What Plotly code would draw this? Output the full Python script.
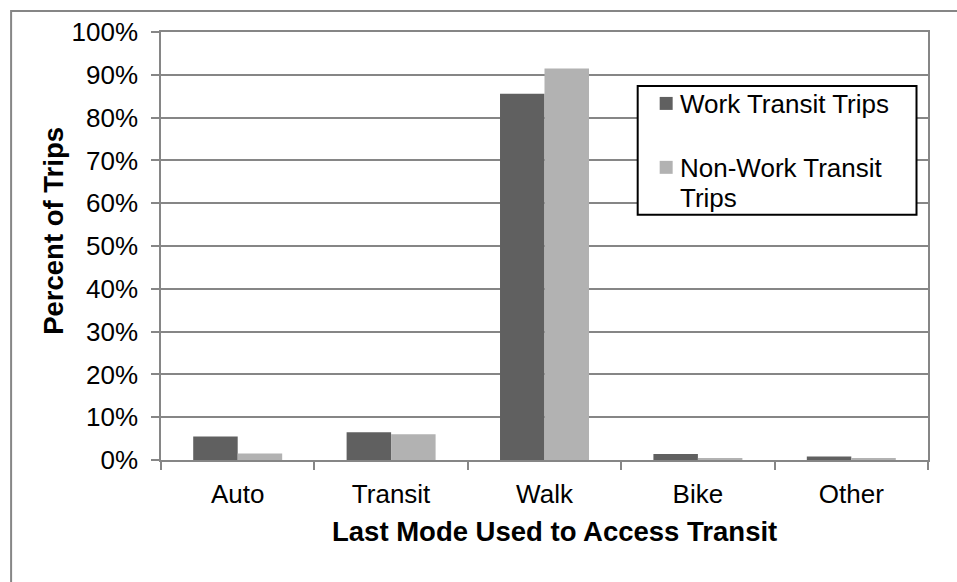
import plotly.graph_objects as go

# Last mode used to access transit, share of trips (%)
modes = ["Auto", "Transit", "Walk", "Bike", "Other"]
work_trips = [5.5, 6.5, 85.6, 1.4, 0.8]
nonwork_trips = [1.5, 6.0, 91.5, 0.4, 0.3]
y_ticks = [0, 10, 20, 30, 40, 50, 60, 70, 80, 90, 100]
y_tick_text = [f"{v}%" for v in y_ticks]
series_names = ["Work Transit Trips", "Non-Work Transit Trips"]

FONT = "Liberation Sans, Arial, sans-serif"
GRID = "#868686"
DARK, LIGHT = "#606060", "#b2b2b2"

# figure geometry (px)
W, H = 957, 582
L, R, T, B = 161, 28.5, 32, 121.5
pw, ph = W - L - R, H - T - B


def px_x(x):
    return (x - L) / pw


def px_y(y):
    return (H - B - y) / ph


fig = go.Figure()
fig.add_trace(go.Bar(
    x=modes, y=work_trips, name=series_names[0],
    marker=dict(color=DARK, line=dict(width=0)),
))
fig.add_trace(go.Bar(
    x=modes, y=nonwork_trips, name=series_names[1],
    marker=dict(color=LIGHT, line=dict(width=0)),
))


def paper_rect(x0, y0, x1, y1, **kw):
    return dict(type="rect", xref="paper", yref="paper",
                x0=px_x(x0), x1=px_x(x1), y0=px_y(y1), y1=px_y(y0), **kw)


def label(text, x, y, size=26, bold=False, **kw):
    return dict(text=f"<b>{text}</b>" if bold else text,
                xref="paper", yref="paper", x=px_x(x), y=px_y(y),
                showarrow=False, font=dict(family=FONT, size=size, color="black"),
                **kw)


shapes = [
    # chart-area frame
    paper_rect(11, 11, 990, 620, line=dict(color=GRID, width=2),
               fillcolor="rgba(0,0,0,0)", layer="below"),
    # legend box and swatches
    paper_rect(638, 86, 917, 215, line=dict(color="black", width=2),
               fillcolor="white"),
    paper_rect(660, 97, 673, 110, line=dict(width=0), fillcolor=DARK),
    paper_rect(660, 161, 673, 174, line=dict(width=0), fillcolor=LIGHT),
]

annotations = [
    label("Last Mode Used to Access Transit", 554.5, 532, size=27.5, bold=True,
          xanchor="center", yanchor="middle"),
    label("Percent of Trips", 54, 231, size=27.5, bold=True, textangle=-90,
          xanchor="center", yanchor="middle"),
    label(series_names[0], 678, 104, xanchor="left", yanchor="middle"),
    label("Non-Work Transit", 678, 168, xanchor="left", yanchor="middle"),
    label("Trips", 678, 198, xanchor="left", yanchor="middle"),
]

fig.update_layout(
    width=W, height=H,
    margin=dict(l=L, r=R, t=T, b=B, pad=0),
    paper_bgcolor="white", plot_bgcolor="white",
    font=dict(family=FONT, size=26, color="black"),
    barmode="group", bargap=0.42, bargroupgap=0,
    showlegend=False,
    xaxis=dict(
        type="category", showline=True, linecolor=GRID, linewidth=1.5,
        mirror=True, ticks="outside", tickson="boundaries", ticklen=8,
        tickcolor=GRID, tickwidth=1.5, showgrid=False,
        tickfont=dict(family=FONT, size=26, color="black"),
        ticklabelstandoff=10,
    ),
    yaxis=dict(
        range=[0, 100], tickmode="array", tickvals=y_ticks, ticktext=y_tick_text,
        showline=True, linecolor=GRID, linewidth=1.5, mirror=True,
        ticks="outside", ticklen=8, tickcolor=GRID, tickwidth=1.5,
        showgrid=True, gridcolor=GRID, gridwidth=1.5,
        zeroline=False,
        tickfont=dict(family=FONT, size=26, color="black"),
        ticklabelstandoff=8,
    ),
    shapes=shapes,
    annotations=annotations,
)

fig.write_html("out.html")
